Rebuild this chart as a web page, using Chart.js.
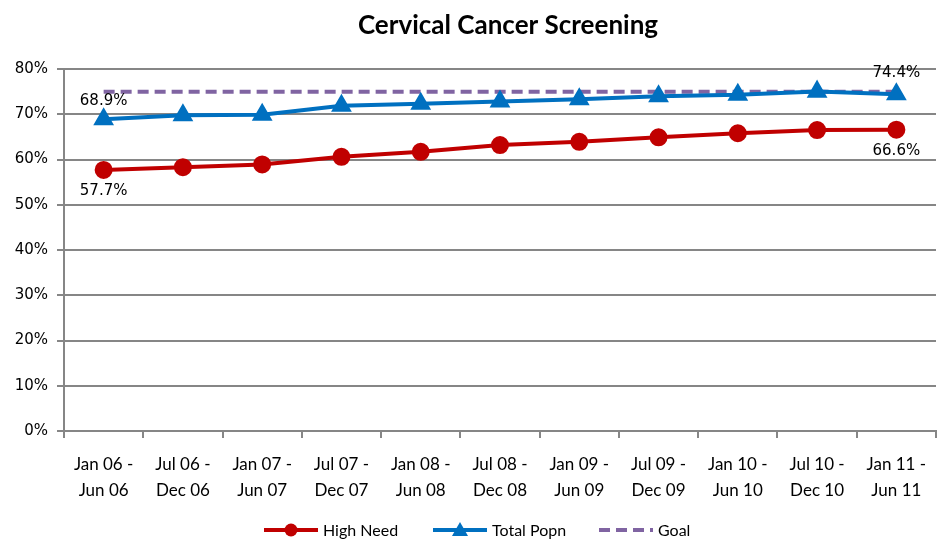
<!DOCTYPE html>
<html>
<head>
<meta charset="utf-8">
<title>Cervical Cancer Screening</title>
<script src="https://cdn.jsdelivr.net/npm/chart.js@4.4.1/dist/chart.umd.min.js"></script>
<style>
  html, body { margin: 0; padding: 0; background: #fff; }
  #wrap { width: 950px; height: 555px; position: relative; }
</style>
</head>
<body>
<div id="wrap"><canvas id="chart"></canvas></div>
<script>
'use strict';

// --- datos ---
const periods = [
    ['Jan 06 -', 'Jun 06'], ['Jul 06 -', 'Dec 06'], ['Jan 07 -', 'Jun 07'], ['Jul 07 -', 'Dec 07'],
    ['Jan 08 -', 'Jun 08'], ['Jul 08 -', 'Dec 08'], ['Jan 09 -', 'Jun 09'], ['Jul 09 -', 'Dec 09'],
    ['Jan 10 -', 'Jun 10'], ['Jul 10 -', 'Dec 10'], ['Jan 11 -', 'Jun 11']
];
const highNeed = [57.7, 58.3, 58.9, 60.6, 61.7, 63.2, 63.9, 64.9, 65.8, 66.5, 66.6];
const totalPopn = [68.9, 69.8, 69.9, 71.9, 72.3, 72.8, 73.3, 74.0, 74.3, 75.0, 74.4];
const goal = [75, 75, 75, 75, 75, 75, 75, 75, 75, 75, 75];
const yTicks = [0, 10, 20, 30, 40, 50, 60, 70, 80];

const GRID = '#868686';
const RED = '#C00000';
const BLUE = '#0070C0';
const PURPLE = '#8064A2';

// titulo + etiquetas + leyenda dibujadas a mano
const extras = {
    id: 'extras',
    afterDraw(chart) {
        const ctx = chart.ctx;
        const area = chart.chartArea;
        ctx.save();

        // titulo
        ctx.fillStyle = '#000';
        ctx.font = 'bold 26px Lato, "Open Sans", sans-serif';
        ctx.textAlign = 'center';
        ctx.textBaseline = 'middle';
        ctx.fillText('Cervical Cancer Screening', (area.left + area.right) / 2 + 8, 26);

        // etiquetas de primer y ultimo punto
        ctx.font = '15px "DejaVu Sans", sans-serif';
        const blueMeta = chart.getDatasetMeta(1);
        const redMeta = chart.getDatasetMeta(0);
        const last = periods.length - 1;
        [[0, -18], [last, -21]].forEach(([i, dy]) => {
            const b = blueMeta.data[i];
            const r = redMeta.data[i];
            ctx.fillText(totalPopn[i].toFixed(1) + '%', b.x, b.y + dy);
            ctx.fillText(highNeed[i].toFixed(1) + '%', r.x, r.y + 21);
        });

        // leyenda
        const ly = 530;
        ctx.font = '16px Lato, "Open Sans", sans-serif';
        ctx.textAlign = 'left';
        const items = [
            { label: 'High Need', color: RED, x: 264, marker: 'circle' },
            { label: 'Total Popn', color: BLUE, x: 433, marker: 'triangle' },
            { label: 'Goal', color: PURPLE, x: 599, marker: null }
        ];
        items.forEach(it => {
            ctx.strokeStyle = it.color;
            ctx.fillStyle = it.color;
            ctx.lineWidth = 4;
            if (it.marker) {
                ctx.setLineDash([]);
                ctx.beginPath(); ctx.moveTo(it.x, ly); ctx.lineTo(it.x + 54, ly); ctx.stroke();
                ctx.beginPath();
                if (it.marker === 'circle') {
                    ctx.arc(it.x + 27, ly, 6.5, 0, Math.PI * 2);
                } else {
                    ctx.moveTo(it.x + 27, ly - 8); ctx.lineTo(it.x + 35, ly + 6); ctx.lineTo(it.x + 19, ly + 6); ctx.closePath();
                }
                ctx.fill();
            } else {
                ctx.setLineDash([11, 6]);
                ctx.beginPath(); ctx.moveTo(it.x, ly); ctx.lineTo(it.x + 54, ly); ctx.stroke();
                ctx.setLineDash([]);
            }
            ctx.fillStyle = '#000';
            ctx.fillText(it.label, it.x + 59, ly + 1);
        });
        ctx.restore();
    }
};

const ctx = document.getElementById('chart').getContext('2d');
new Chart(ctx, {
    type: 'line',
    data: {
        labels: periods,
        datasets: [
            {
                label: 'High Need', data: highNeed,
                borderColor: RED, backgroundColor: RED, borderWidth: 4,
                pointStyle: 'circle', pointRadius: 7, pointHoverRadius: 7, tension: 0
            },
            {
                label: 'Total Popn', data: totalPopn,
                borderColor: BLUE, backgroundColor: BLUE, borderWidth: 4,
                pointStyle: 'triangle', pointRadius: 8, pointHoverRadius: 8, tension: 0
            },
            {
                label: 'Goal', data: goal,
                borderColor: PURPLE, backgroundColor: PURPLE, borderWidth: 4,
                borderDash: [11, 6], pointRadius: 0, tension: 0
            }
        ]
    },
    options: {
        responsive: true,
        maintainAspectRatio: false,
        animation: false,
        layout: { padding: { left: 0, right: 14, top: 69, bottom: 0 } },
        plugins: { legend: { display: false }, tooltip: { enabled: false }, title: { display: false } },
        scales: {
            x: {
                offset: true,
                grid: { offset: true, drawOnChartArea: false, drawTicks: true, tickLength: 7, color: GRID, lineWidth: 2 },
                border: { color: GRID, width: 2 },
                ticks: { color: '#000', font: { family: 'Lato, "Open Sans", sans-serif', size: 17, lineHeight: 1.5 }, maxRotation: 0, autoSkip: false, padding: 14 },
                afterFit: s => { s.height = 124; }
            },
            y: {
                min: 0, max: 80,
                afterBuildTicks: s => { s.ticks = yTicks.map(v => ({ value: v })); },
                grid: { color: GRID, lineWidth: 2, tickLength: 7 },
                border: { color: GRID, width: 2 },
                ticks: { color: '#000', font: { family: '"DejaVu Sans", sans-serif', size: 15 }, padding: 9, callback: v => v + '%' },
                afterFit: s => { s.width = 64; }
            }
        }
    },
    plugins: [extras]
});
</script>
</body>
</html>
